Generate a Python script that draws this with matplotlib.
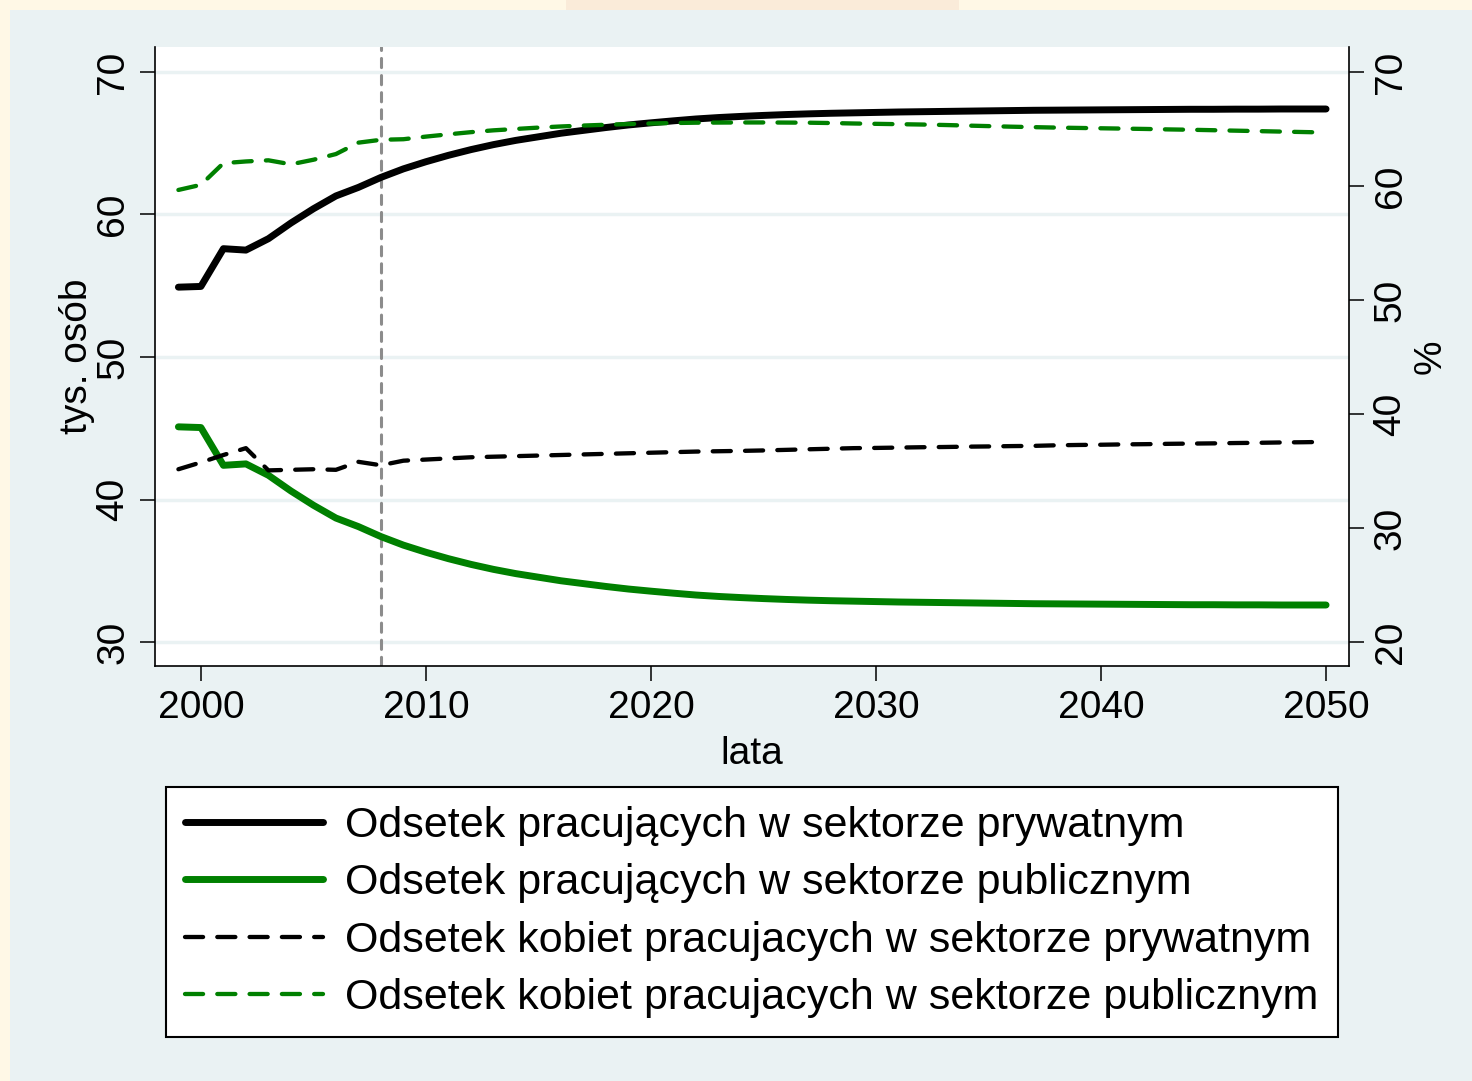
import matplotlib
matplotlib.use("Agg")
import matplotlib.pyplot as plt
from matplotlib.patches import Rectangle

plt.rcParams['font.family'] = ['Liberation Sans', 'DejaVu Sans']

years = list(range(1999, 2051))

# Left axis (tys. osób)
priv_total = [54.9, 54.95, 57.6, 57.5, 58.3, 59.4, 60.4, 61.3, 61.9, 62.6,
              63.2, 63.7, 64.15, 64.55, 64.9, 65.2, 65.45, 65.7, 65.9, 66.1,
              66.28, 66.43, 66.57, 66.7, 66.8, 66.88, 66.95, 67.01, 67.06, 67.1,
              67.13, 67.16, 67.19, 67.21, 67.23, 67.25, 67.27, 67.29, 67.31, 67.32,
              67.33, 67.34, 67.35, 67.36, 67.37, 67.38, 67.38, 67.39, 67.39, 67.4,
              67.4, 67.4]
publ_total = [45.1, 45.05, 42.4, 42.5, 41.7, 40.6, 39.6, 38.7, 38.1, 37.4,
              36.8, 36.3, 35.85, 35.45, 35.1, 34.8, 34.55, 34.3, 34.1, 33.9,
              33.72, 33.57, 33.43, 33.3, 33.2, 33.12, 33.05, 32.99, 32.94, 32.9,
              32.87, 32.84, 32.81, 32.79, 32.77, 32.75, 32.73, 32.71, 32.69, 32.68,
              32.67, 32.66, 32.65, 32.64, 32.63, 32.62, 32.62, 32.61, 32.61, 32.6,
              32.6, 32.6]
# Right axis (%)
priv_women = [35.15, 35.75, 36.4, 37.0, 35.05, 35.1, 35.15, 35.1, 35.8, 35.5,
              35.9, 36.0, 36.1, 36.2, 36.25, 36.3, 36.35, 36.4, 36.45, 36.5,
              36.55, 36.6, 36.65, 36.7, 36.73, 36.76, 36.8, 36.85, 36.9, 36.95,
              37.0, 37.02, 37.05, 37.08, 37.1, 37.13, 37.15, 37.18, 37.2, 37.25,
              37.28, 37.3, 37.33, 37.35, 37.38, 37.4, 37.42, 37.45, 37.47, 37.5,
              37.52, 37.55]
publ_women = [59.65, 60.1, 62.0, 62.15, 62.25, 61.9, 62.3, 62.8, 63.8, 64.05,
              64.1, 64.33, 64.53, 64.72, 64.88, 65.0, 65.12, 65.22, 65.3, 65.37,
              65.43, 65.48, 65.52, 65.55, 65.56, 65.57, 65.57, 65.56, 65.55, 65.52,
              65.48, 65.45, 65.42, 65.39, 65.35, 65.3, 65.25, 65.2, 65.16, 65.12,
              65.09, 65.06, 65.03, 65.0, 64.96, 64.93, 64.89, 64.85, 64.81, 64.77,
              64.73, 64.69]

labels = ["Odsetek pracujących w sektorze prywatnym",
          "Odsetek pracujących w sektorze publicznym",
          "Odsetek kobiet pracujacych w sektorze prywatnym",
          "Odsetek kobiet pracujacych w sektorze publicznym"]
x_ticks = [2000, 2010, 2020, 2030, 2040, 2050]
left_ticks = [30, 40, 50, 60, 70]
right_ticks = [20, 30, 40, 50, 60, 70]
marker_year = 2008

BG = '#EAF2F3'
GREEN = '#008000'

fig = plt.figure(figsize=(14.72, 10.81), dpi=100, facecolor='#FFF8E6')
fig.patches.append(Rectangle((10 / 1472, 0), 1 - 10 / 1472, 1 - 10 / 1081,
                             transform=fig.transFigure, facecolor=BG,
                             edgecolor='none', zorder=-1))
fig.patches.append(Rectangle((566 / 1472, 1 - 10 / 1081), (959 - 566) / 1472, 10 / 1081,
                             transform=fig.transFigure, facecolor='#FAEBD9',
                             edgecolor='none', zorder=-1))

ax = fig.add_axes([155 / 1472, 1 - 666 / 1081, (1349 - 155) / 1472, (666 - 47) / 1081])
ax.set_facecolor('white')
ax2 = ax.twinx()

ax.axvline(marker_year, color='#8C8C8C', lw=2.2, linestyle=(0, (3, 2.6)),
           dash_capstyle='round', zorder=1.5)

l1, = ax.plot(years, priv_total, color='black', lw=5.0, solid_capstyle='round',
              solid_joinstyle='round', zorder=3)
l2, = ax.plot(years, publ_total, color=GREEN, lw=5.0, solid_capstyle='round',
              solid_joinstyle='round', zorder=3)
l3, = ax2.plot(years, priv_women, color='black', lw=3.1, linestyle=(0, (4.2, 3.3)),
               dash_capstyle='round', zorder=3)
l4, = ax2.plot(years, publ_women, color=GREEN, lw=3.1, linestyle=(0, (4.2, 3.3)),
               dash_capstyle='round', zorder=3)

ax.set_xlim(1997.96, 2051.02)
ax.set_ylim(28.32, 71.75)
ax2.set_ylim(17.89, 72.19)

ax.set_xticks(x_ticks)
ax.set_yticks(left_ticks)
ax2.set_yticks(right_ticks)

ax.set_axisbelow(True)
ax.yaxis.grid(True, color=BG, lw=2.5)
ax.xaxis.grid(False)

for a in (ax, ax2):
    a.spines['top'].set_visible(False)
    for s in a.spines.values():
        s.set_linewidth(1.2)
ax.spines['right'].set_visible(False)
ax2.spines['left'].set_visible(False)
ax2.spines['bottom'].set_visible(False)

ax.tick_params(axis='both', direction='out', length=11, width=1.1, labelsize=28, pad=6)
ax.tick_params(axis='y', labelrotation=90)
ax2.tick_params(axis='y', direction='out', length=11, width=1.1, labelsize=28, pad=6,
                labelrotation=90)
for t in ax.get_yticklabels():
    t.set_va('center')
for t in ax2.get_yticklabels():
    t.set_va('center')

ax.set_xlabel('lata', fontsize=28, va='center')
ax.xaxis.set_label_coords(0.5, -0.142)
ax.set_ylabel('tys. osób', fontsize=28, va='center')
ax.yaxis.set_label_coords(-0.0653, 0.5)
ax2.set_ylabel('%', fontsize=28, va='center', rotation=90)
ax2.yaxis.set_label_coords(1.068, 0.5)

leg = fig.legend([l1, l2, l3, l4], labels, loc='center',
                 bbox_to_anchor=(752 / 1472, 1 - 912 / 1081),
                 fontsize=31, frameon=True, fancybox=False, shadow=False,
                 framealpha=1, edgecolor='black', handlelength=3.2,
                 handletextpad=0.52, labelspacing=0.4, borderpad=0.45,
                 borderaxespad=0)
leg.get_frame().set_linewidth(1.5)

fig.savefig('out.png', dpi=100, facecolor=fig.get_facecolor())
